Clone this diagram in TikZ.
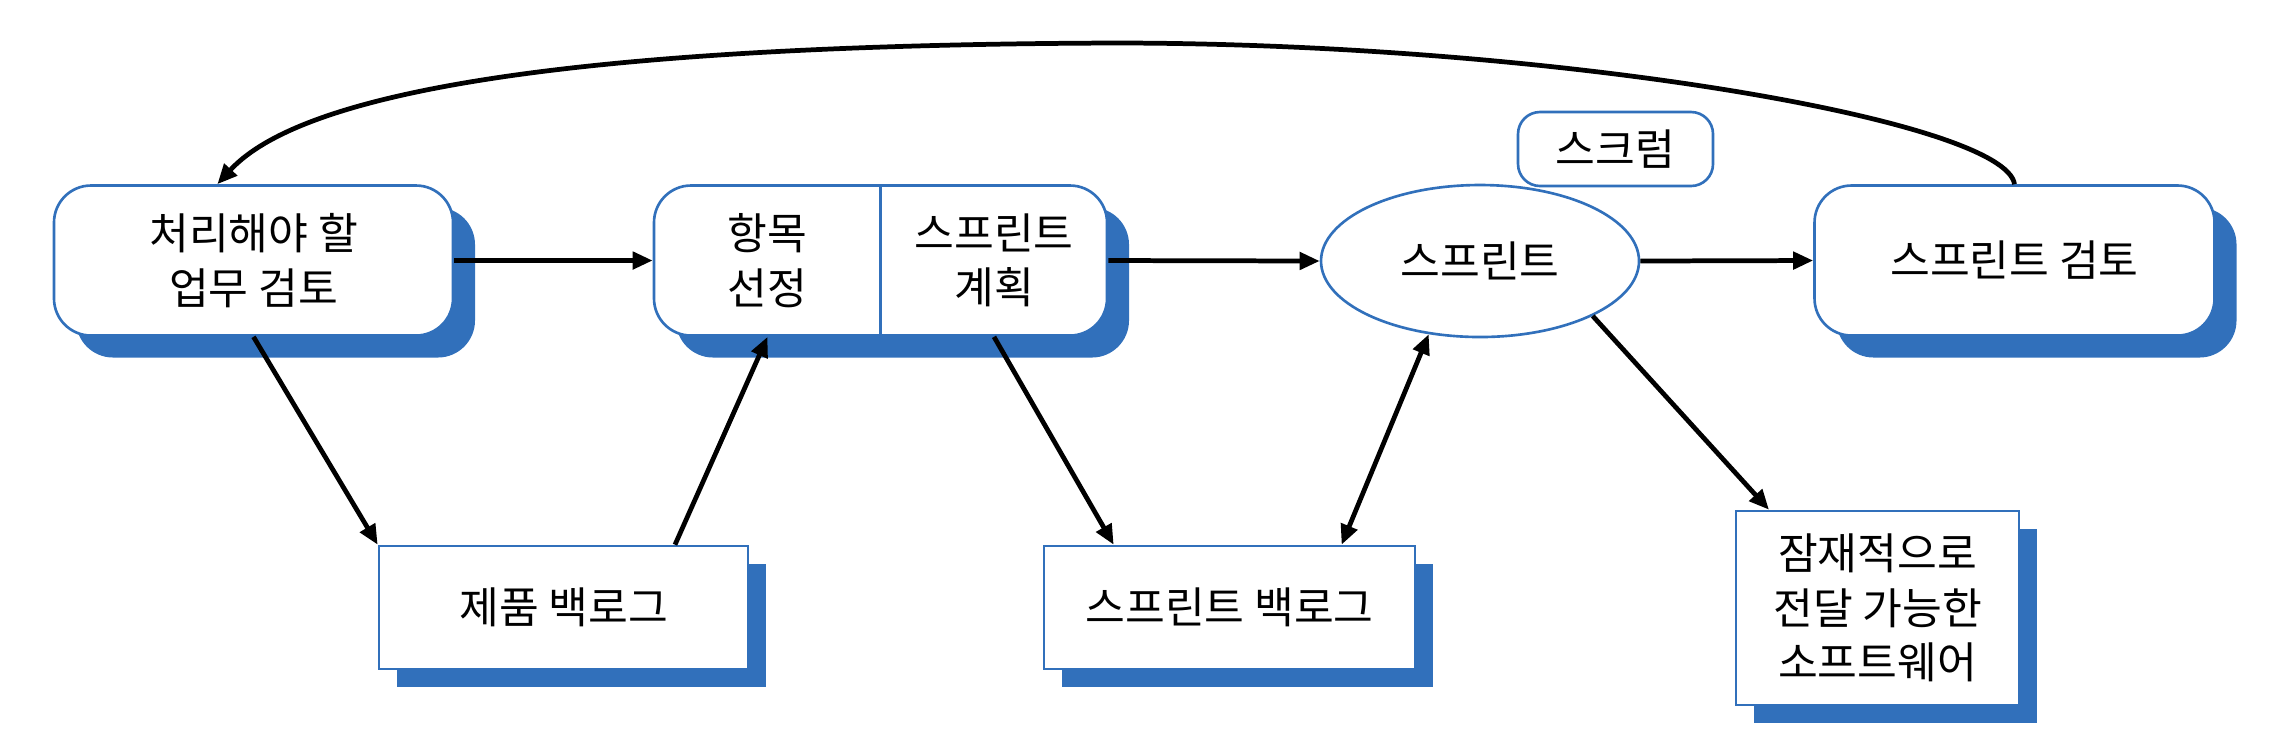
\documentclass[tikz,border=0pt]{standalone}
\usepackage{fontspec}
\setmainfont{Noto Sans CJK KR}
\usepackage{tikz}
\usetikzlibrary{positioning, shapes.geometric, shadows, arrows.meta, calc}
\definecolor{scrumblue}{HTML}{3170BB}

\begin{document}
\begin{tikzpicture}[x=1cm, y=1cm, >={Triangle[length=0.2cm,width=0.17cm]},
    every node/.style={font=\fontsize{12.3pt}{15.5pt}\selectfont, align=center, inner sep=0pt},
    blueshadow/.style={drop shadow={shadow xshift=#1, shadow yshift=-#1, fill=scrumblue, opacity=1}},
    roundbox/.style={draw=scrumblue, line width=0.75pt, fill=white, rounded corners=0.37cm,
        minimum width=3.99cm, minimum height=1.5cm, blueshadow=0.22cm},
    sqbox/.style={draw=scrumblue, line width=0.75pt, fill=white, blueshadow=0.18cm},
    flow/.style={->, line width=1.35pt}]

    \useasboundingbox (0,0) rectangle (22.70,-7.52);

    % Top row
    \node[roundbox] at (2.535,-2.605) (A) {처리해야 할\\업무 검토};
    \node[roundbox, minimum width=4.53cm] at (8.805,-2.605) (B) {};
    \draw[scrumblue, line width=0.75pt] (B.north) -- (B.south);
    \node at (7.675,-2.605) (Bl) {항목\\선정};
    \node at (9.94,-2.605) (Br) {스프린트\\계획};
    \node[ellipse, draw=scrumblue, line width=0.75pt, minimum width=3.18cm, minimum height=1.52cm] at (14.80,-2.61) (E) {스프린트};
    \node[draw=scrumblue, line width=0.75pt, rounded corners=0.22cm, minimum width=1.95cm, minimum height=0.74cm] at (16.155,-1.49) (S) {스크럼};
    \node[roundbox, minimum width=4.0cm] at (20.145,-2.605) (D) {스프린트 검토};

    % Bottom row
    \node[sqbox, minimum width=3.69cm, minimum height=1.23cm] at (5.635,-6.075) (PB) {제품 백로그};
    \node[sqbox, minimum width=3.71cm, minimum height=1.23cm] at (12.295,-6.075) (SB) {스프린트 백로그};
    \node[sqbox, minimum width=2.83cm, minimum height=1.94cm] at (18.775,-6.08) (SW) {잠재적으로\\전달 가능한\\소프트웨어};

    % Flow
    \draw[flow] (A.east) -- (B.west);
    \draw[flow] (B.east) -- (E.west);
    \draw[flow] (E.east) -- (D.west);
    \draw[flow] (A.south) -- (PB.north west);
    \draw[flow] ($(PB.north west)!0.8!(PB.north east)$) -- (Bl |- B.south);
    \draw[flow] (Br |- B.south) -- ($(SB.north west)!0.19!(SB.north east)$);
    \draw[flow, <->] ($(SB.north west)!0.8!(SB.north east)$) -- (E.235);
    \draw[flow] (E.-26) -- ($(SW.north west)!0.12!(SW.north east)$);

    % Back to the start
    \draw[flow] (D.north) .. controls (20.05,-1.20) and (15.50,-0.43) .. (11.15,-0.43)
        .. controls (5.0,-0.45) and (2.90,-1.05) .. ($(A.north west)!0.41!(A.north east)$);

\end{tikzpicture}
\end{document}
